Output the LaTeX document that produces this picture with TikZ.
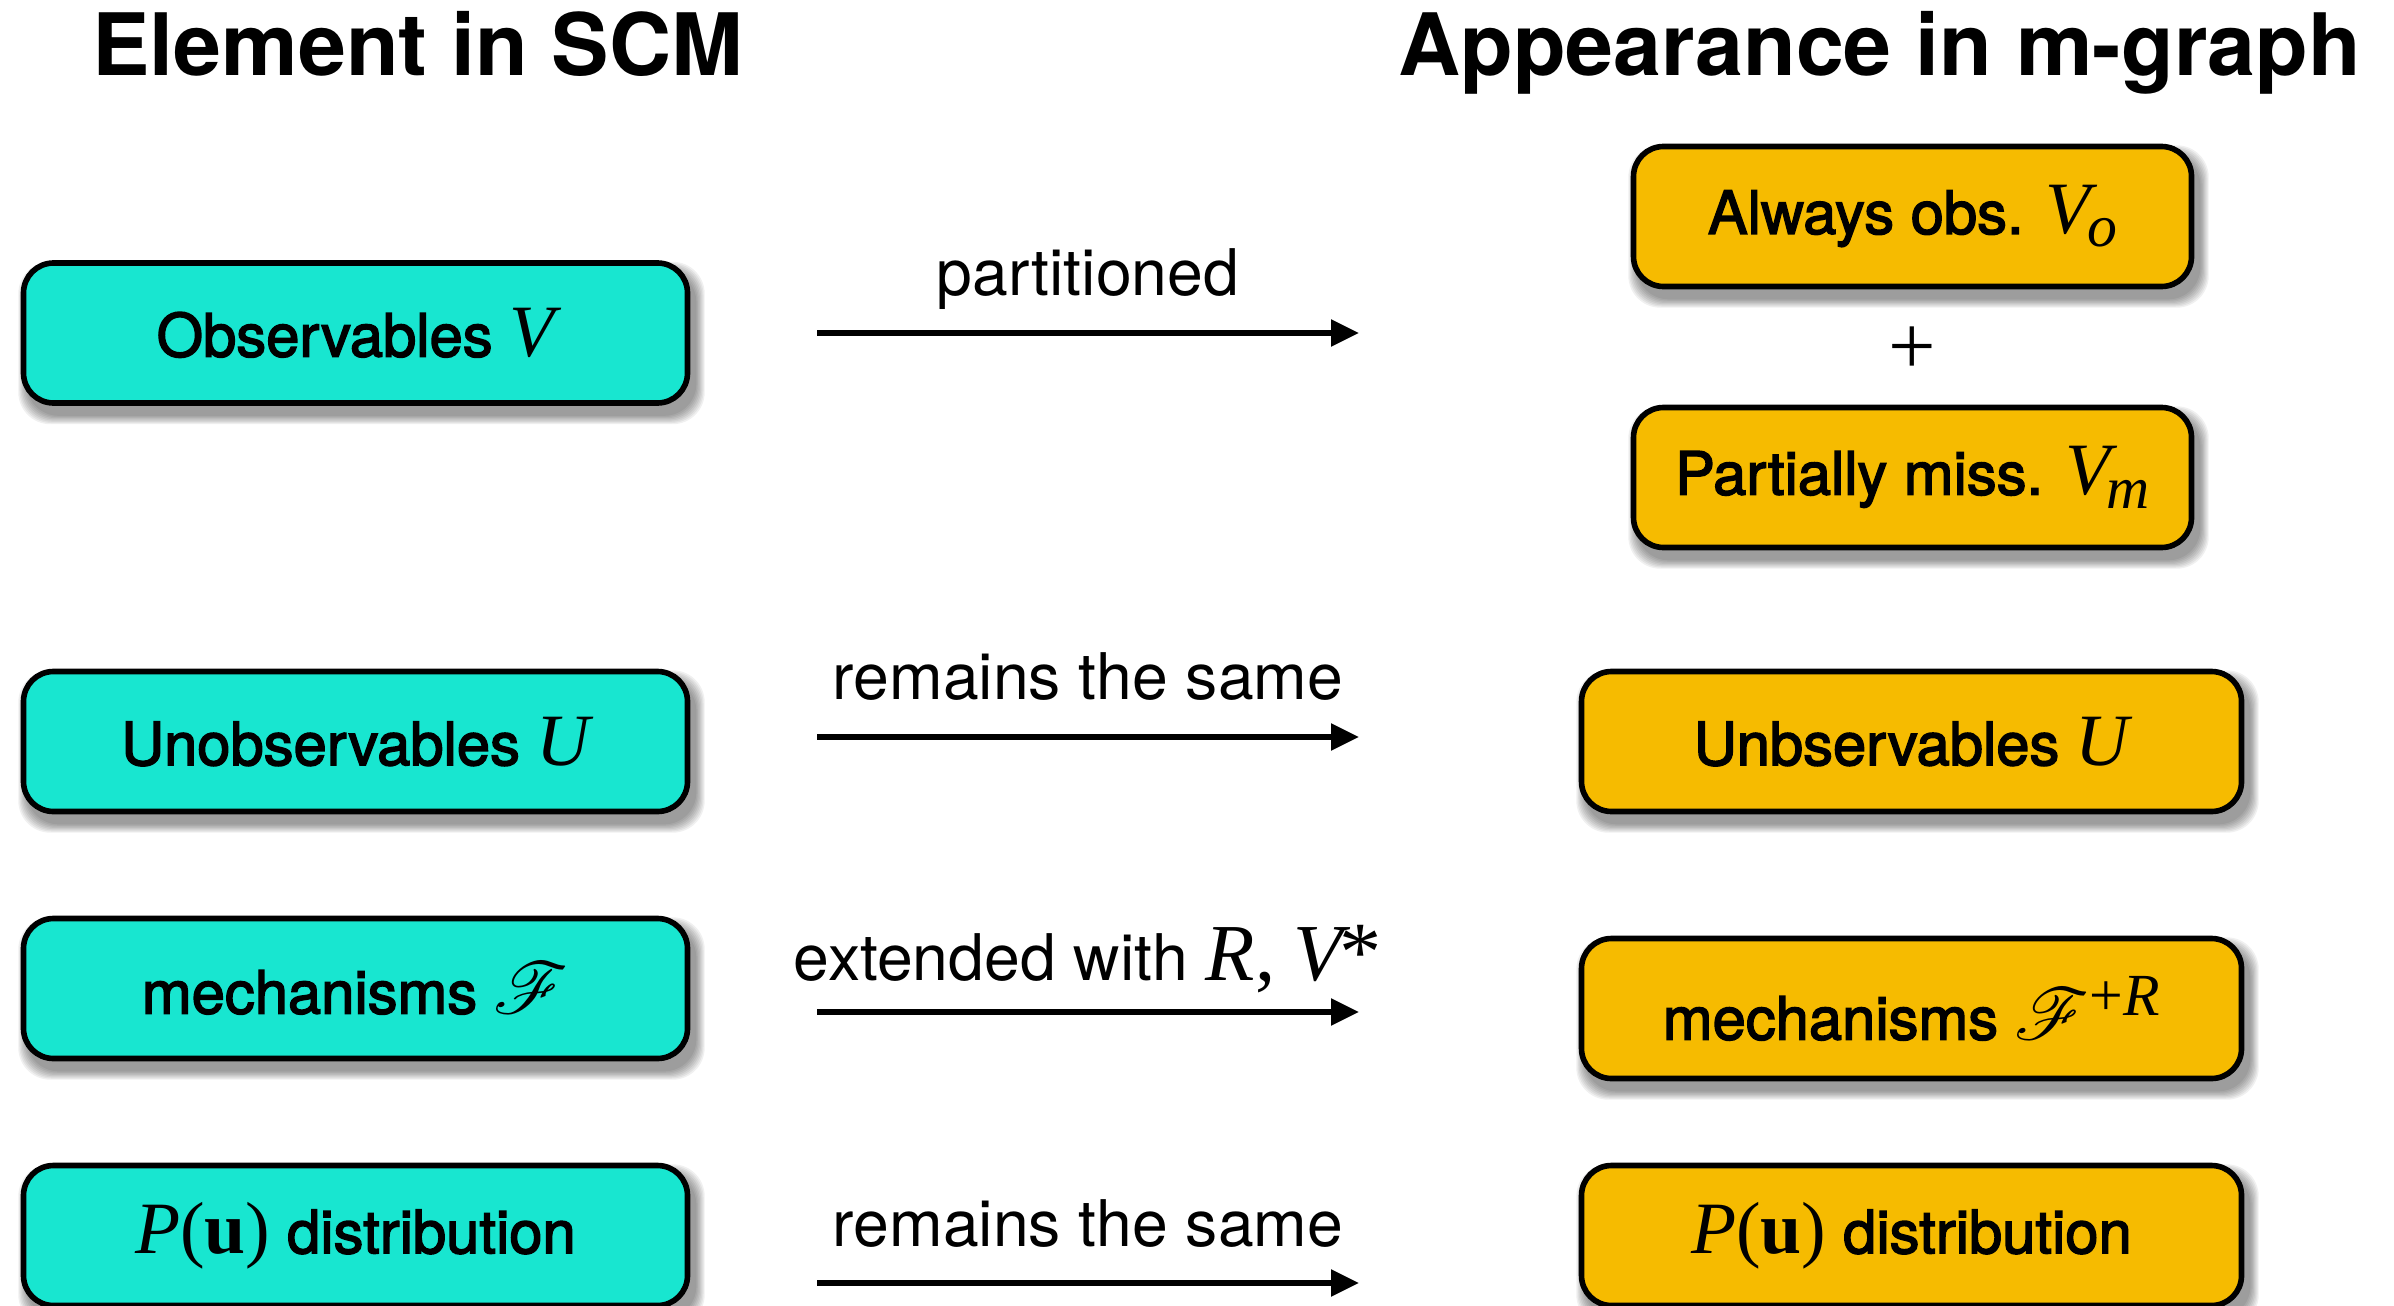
\documentclass[tikz,border=0pt]{standalone}
\usepackage{fontspec}
\usepackage{mathrsfs}
\setmainfont{TeX Gyre Heros}
\newfontfamily\boxfont[FakeBold=2.4]{TeX Gyre Heros}
\newfontfamily\termes{Liberation Serif}
\usetikzlibrary{arrows.meta,backgrounds}

\definecolor{scmcyan}{RGB}{24,230,208}
\definecolor{mgorange}{RGB}{246,187,0}

% italic variable in a Times-like face, optional size in pt
\newcommand{\mvar}[2][21]{{\termes\itshape\fontsize{#1}{#1}\selectfont #2}}
\newcommand{\mup}[2][21]{{\termes\upshape\fontsize{#1}{#1}\selectfont #2}}
\newcommand{\mbold}[2][21]{{\termes\bfseries\fontsize{#1}{#1}\selectfont #2}}
\newcommand{\scrF}{{\fontsize{21}{21}\selectfont$\mathscr{F}$}}
\newcommand{\Pu}{\mvar{P}\mup{(}\mbold{u}\mup{)}}

\tikzset{
  box/.style={draw=black, line width=1.6pt, rounded corners=0.3cm,
    minimum height=1.40cm, inner sep=0pt,
    font=\boxfont\fontsize{17}{20}\selectfont},
  scm/.style={box, fill=scmcyan, minimum width=6.64cm},
  mgwide/.style={box, fill=mgorange, minimum width=6.60cm},
  mgnarrow/.style={box, fill=mgorange, minimum width=5.58cm},
  heading/.style={anchor=base west, font=\bfseries\fontsize{24.5}{28}\selectfont},
  lbl/.style={anchor=base, inner sep=0pt, font=\fontsize{18.3}{22}\selectfont},
  arr/.style={line width=1.6pt, -{Triangle[length=0.28cm,width=0.26cm]}},
}

\begin{document}
\begin{tikzpicture}
\useasboundingbox (0,0) rectangle (23.94,-13.05);

% headings
\node[heading] (h1) at (0.80,-0.76) {Element in SCM};
\node[heading] (h2) at (13.86,-0.76) {Appearance in m-graph};

% elements of the SCM
\node[scm] (lv) at (3.555,-3.33) {Observables \mvar{V}};
\node[scm] (lu) at (3.555,-7.415) {Unobservables \mvar{U}};
\node[scm] (lf) at (3.555,-9.885) {mechanisms \scrF};
\node[scm] (lp) at (3.555,-12.355) {\Pu\ distribution};

% their counterparts in the m-graph
\node[mgnarrow] (rvo) at (19.125,-2.165) {Always obs. \mvar{V}\kern-0.06em\raisebox{-0.13cm}{\mvar[17]{o}}};
\node[font=\termes\fontsize{24}{24}\selectfont] (plus) at (19.12,-3.51) {+};
\node[mgnarrow] (rvm) at (19.125,-4.775) {Partially miss. \mvar{V}\kern-0.06em\raisebox{-0.14cm}{\mvar[17]{m}}};
\node[mgwide] (ru) at (19.115,-7.415) {Unbservables \mvar{U}};
\node[mgwide] (rf) at (19.115,-10.085) {mechanisms \scrF\raisebox{0.24cm}{\mup[17]{+}\mvar[17]{R}}};
\node[mgwide] (rp) at (19.115,-12.355) {\Pu\ distribution};

% drop shadows
\begin{scope}[on background layer]
  \foreach \n in {lv,lu,lf,lp,rvo,rvm,ru,rf,rp}{
    \foreach \k in {0,...,7}{
      \fill[black, opacity=0.06, rounded corners=0.32cm]
        ([shift={(0.06-\k*0.012,-0.10-\k*0.012)}]\n.south west)
        rectangle ([shift={(0.06+\k*0.012,-0.10+\k*0.012)}]\n.north east);
    }
  }
\end{scope}

% connectors
\coordinate (a1s) at (8.17,-3.33);  \coordinate (a1e) at (13.59,-3.33);
\coordinate (a2s) at (8.17,-7.37);  \coordinate (a2e) at (13.59,-7.37);
\coordinate (a3s) at (8.17,-10.12); \coordinate (a3e) at (13.59,-10.12);
\coordinate (a4s) at (8.17,-12.83); \coordinate (a4e) at (13.59,-12.83);

\draw[arr] (a1s) -- (a1e);
\draw[arr] (a2s) -- (a2e);
\draw[arr] (a3s) -- (a3e);
\draw[arr] (a4s) -- (a4e);

\node[lbl] (t1) at (10.88,-2.95) {partitioned};
\node[lbl] (t2) at (10.88,-6.99) {remains the same};
\node[lbl] (t3) at (10.88,-9.80) {extended with \mvar[23]{R}\mup[23]{,} \mvar[23]{V}\kern-0.04em\mup[24]{*}};
\node[lbl] (t4) at (10.88,-12.46) {remains the same};
\end{tikzpicture}
\end{document}
